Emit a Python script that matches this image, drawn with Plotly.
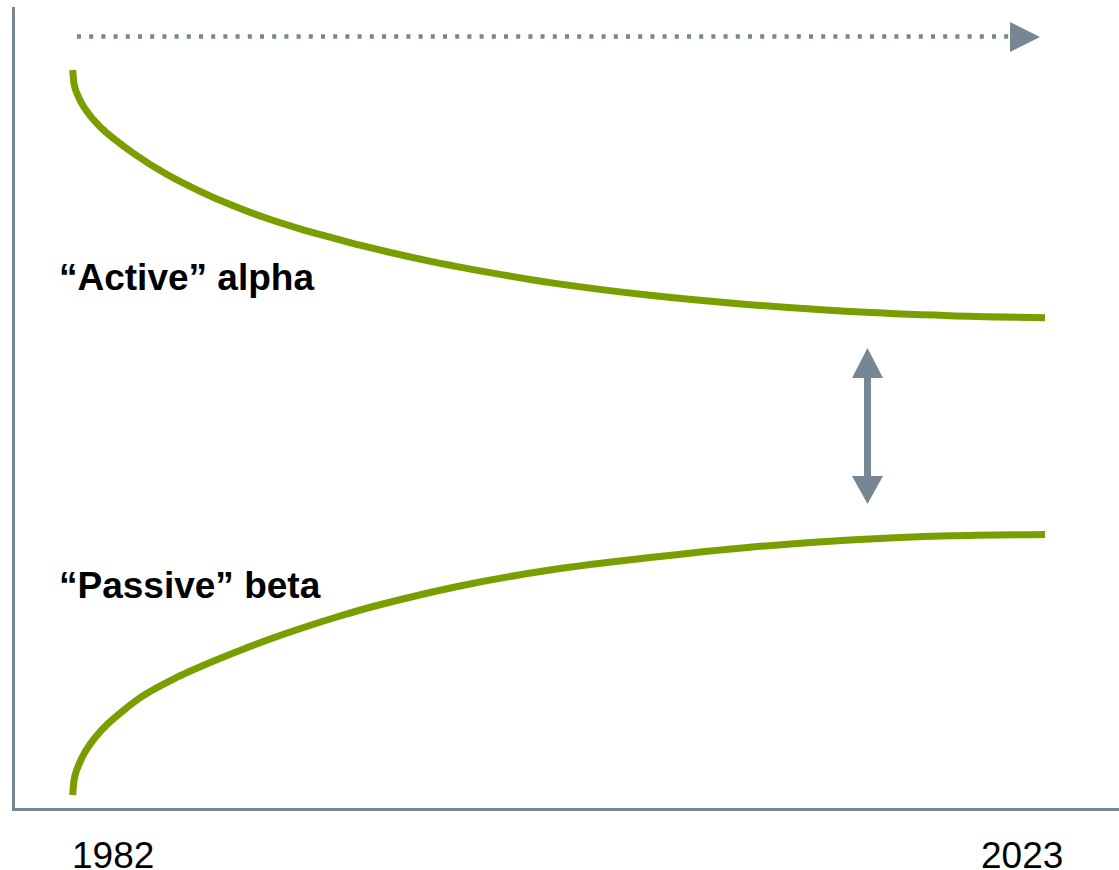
import plotly.graph_objects as go

# ---- data ----
active_years = [1982.0, 1982.063, 1982.17, 1982.506, 1983.15, 1984.56, 1985.96, 1987.37,
                1988.77, 1990.18, 1991.58, 1992.99, 1994.11, 1996.94, 1999.72, 2002.13,
                2006.34, 2010.56, 2014.78, 2018.99, 2023.0]
active_vals = [92.13, 90.31, 89.26, 87.34, 85.06, 81.74, 79.11, 76.99,
               75.18, 73.62, 72.31, 71.16, 70.26, 68.34, 66.78, 65.59,
               64.01, 62.84, 61.98, 61.47, 61.21]

passive_years = [1982.0, 1982.063, 1982.17, 1982.52, 1982.93, 1983.50, 1984.91, 1986.31,
                 1987.72, 1989.13, 1990.53, 1991.93, 1993.34, 1994.75, 1998.33, 2002.13,
                 2006.34, 2010.56, 2014.78, 2018.99, 2023.0]
passive_vals = [1.62, 3.58, 4.76, 6.99, 8.74, 10.57, 13.90, 16.19,
                18.06, 19.75, 21.31, 22.72, 24.03, 25.22, 27.72, 29.71,
                31.27, 32.56, 33.46, 33.98, 34.14]

series_labels = ["\u201cActive\u201d alpha", "\u201cPassive\u201d beta"]
tick_labels = ["1982", "2023"]

# ---- styling ----
W, H = 1119, 870
L, R, T, B = 15, 0, 7, 62
PW, PH = W - L - R, H - T - B
GREEN = "#7a9e00"
GRAY = "#768693"
FONT = "Liberation Sans, Arial, sans-serif"


def px_x(p):
    return (p - L) / PW


def px_y(p):
    return (H - B - p) / PH


fig = go.Figure()
fig.add_trace(go.Scatter(x=active_years, y=active_vals, mode="lines",
                         line=dict(color=GREEN, width=7, shape="spline", smoothing=0.8),
                         cliponaxis=False, hoverinfo="skip", name=series_labels[0]))
fig.add_trace(go.Scatter(x=passive_years, y=passive_vals, mode="lines",
                         line=dict(color=GREEN, width=7, shape="spline", smoothing=0.8),
                         cliponaxis=False, hoverinfo="skip", name=series_labels[1]))

# x mapping: 1982 at pixel 72.7, 2023 at pixel 1045
k = (2023 - 1982) / (1045 - 72.7)
x_min = 1982 + (L - 72.7) * k
x_max = 1982 + (W - R - 72.7) * k

shapes = [
    # dotted time arrow
    dict(type="line", xref="paper", yref="paper", x0=px_x(77), x1=px_x(1010),
         y0=px_y(36.5), y1=px_y(36.5), line=dict(color=GRAY, width=4.5, dash="4px,8.2px")),
    dict(type="path", xref="paper", yref="paper",
         path=f"M {px_x(1010)} {px_y(22)} L {px_x(1040)} {px_y(37)} L {px_x(1010)} {px_y(52)} Z",
         fillcolor=GRAY, line=dict(width=0)),
    # double arrow
    dict(type="line", xref="paper", yref="paper", x0=px_x(867.5), x1=px_x(867.5),
         y0=px_y(376), y1=px_y(478), line=dict(color=GRAY, width=7)),
    dict(type="path", xref="paper", yref="paper",
         path=f"M {px_x(852)} {px_y(378)} L {px_x(883)} {px_y(378)} L {px_x(867.5)} {px_y(348)} Z",
         fillcolor=GRAY, line=dict(width=0)),
    dict(type="path", xref="paper", yref="paper",
         path=f"M {px_x(852)} {px_y(476)} L {px_x(883)} {px_y(476)} L {px_x(867.5)} {px_y(504)} Z",
         fillcolor=GRAY, line=dict(width=0)),
]

annotations = [
    dict(text=f"<b>{series_labels[0]}</b>", xref="paper", yref="paper",
         x=px_x(57), y=px_y(277), xanchor="left", yanchor="middle", showarrow=False,
         font=dict(family=FONT, size=37, color="black")),
    dict(text=f"<b>{series_labels[1]}</b>", xref="paper", yref="paper",
         x=px_x(57), y=px_y(585), xanchor="left", yanchor="middle", showarrow=False,
         font=dict(family=FONT, size=37, color="black")),
    dict(text=tick_labels[0], xref="x", yref="paper", x=1982, y=px_y(856),
         xanchor="left", yanchor="middle", xshift=-3, showarrow=False,
         font=dict(family=FONT, size=37, color="black")),
    dict(text=tick_labels[1], xref="x", yref="paper", x=2023, y=px_y(856),
         xanchor="right", yanchor="middle", xshift=20, showarrow=False,
         font=dict(family=FONT, size=37, color="black")),
]

fig.update_layout(
    width=W, height=H,
    margin=dict(l=L, r=R, t=T, b=B),
    paper_bgcolor="white", plot_bgcolor="white",
    showlegend=False,
    shapes=shapes, annotations=annotations,
    xaxis=dict(range=[x_min, x_max], showgrid=False, zeroline=False, showticklabels=False,
               ticks="", showline=True, linecolor=GRAY, linewidth=2.5, fixedrange=True),
    yaxis=dict(range=[0, 100], showgrid=False, zeroline=False, showticklabels=False,
               ticks="", showline=True, linecolor=GRAY, linewidth=2.5, fixedrange=True),
)

fig.write_html("out.html", config={"displayModeBar": False},
               post_script="document.body.style.margin='0';document.body.style.overflow='hidden';")
